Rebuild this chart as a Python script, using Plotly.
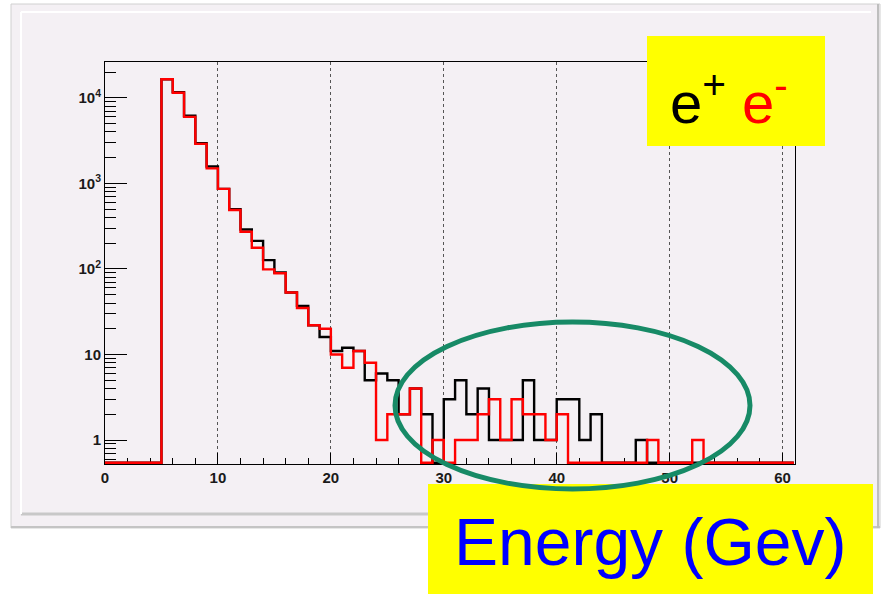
import math
import plotly.graph_objects as go

# ---------------- data ----------------
bin_edges = list(range(0, 62))  # 1 GeV bins, 0..61
positron_counts = [0, 0, 0, 0, 0,
                   16500, 11700, 6200, 2950, 1580, 865, 500, 290, 213, 127, 91, 53,
                   37, 22, 16, 11, 12, 11, 5, 6, 5, 2, 4, 2, 0, 3,
                   5, 2, 4, 1, 1, 1, 5, 1, 1, 3, 3, 1, 2,
                   0, 0, 0, 1, 0, 0, 0, 0, 0, 0, 0, 0, 0, 0, 0, 0, 0]
electron_counts = [0, 0, 0, 0, 0,
                   16500, 11500, 6000, 2900, 1500, 865, 490, 272, 177, 99, 89, 53,
                   35, 22, 20, 10, 7, 11, 8, 1, 2, 2, 4, 0, 1, 0,
                   1, 1, 2, 3, 1, 3, 2, 2, 1, 2, 0, 0, 0,
                   0, 0, 0, 0, 1, 0, 0, 0, 1, 0, 0, 0, 0, 0, 0, 0, 0]
x_tick_vals = [0, 10, 20, 30, 40, 50, 60]
x_tick_text = ["0", "10", "20", "30", "40", "50", "60"]
y_tick_vals = [1, 10, 100, 1000, 10000]
y_tick_text = ["1", "10", "10<sup>2</sup>", "10<sup>3</sup>", "10<sup>4</sup>"]
legend_text = "e<sup>+</sup> <span style='color:#FF0000'>e<sup>-</sup></span>"
xlabel_text = "Energy (Gev)"

# ---------------- layout geometry ----------------
W, H = 885, 594
L, R, T, B = 105, 795, 62, 464
PW, PH = R - L, B - T
Y_LOG_RANGE = [-0.28, 4.42]
X_RANGE = [0, 61.1]
floor_val = 10 ** (Y_LOG_RANGE[0] + 0.015)


def px(x):
    return (x - L) / PW


def py(y):
    return (B - y) / PH


def steps(counts):
    ys = [c if c > 0 else floor_val for c in counts]
    return bin_edges, ys + [ys[-1]]


fig = go.Figure()
for counts, color in [(positron_counts, "#000000"), (electron_counts, "#FF0000")]:
    xs, ys = steps(counts)
    fig.add_trace(go.Scatter(x=xs, y=ys, mode="lines", line_shape="hv",
                             line=dict(color=color, width=2.4), showlegend=False,
                             hoverinfo="skip"))

canvas = "#F4F0F4"
shapes = [
    # canvas pad
    dict(type="rect", xref="paper", yref="paper", x0=px(11), x1=px(880), y0=py(4), y1=py(528),
         fillcolor=canvas, line=dict(color="#D0D0D0", width=1), layer="below"),
    dict(type="line", xref="paper", yref="paper", x0=px(11), x1=px(880), y0=py(527), y1=py(527),
         line=dict(color="#C4C4C4", width=2), layer="below"),
    dict(type="line", xref="paper", yref="paper", x0=px(21), x1=px(871), y0=py(514), y1=py(514),
         line=dict(color="#C8C8C8", width=3), layer="below"),
    dict(type="line", xref="paper", yref="paper", x0=px(878), x1=px(878), y0=py(4), y1=py(528),
         line=dict(color="#BEBEBE", width=2), layer="below"),
    dict(type="line", xref="paper", yref="paper", x0=px(21), x1=px(21), y0=py(12), y1=py(514),
         line=dict(color="#FFFFFF", width=2), layer="below"),
    dict(type="line", xref="paper", yref="paper", x0=px(21), x1=px(871), y0=py(12), y1=py(12),
         line=dict(color="#FFFFFF", width=2), layer="below"),
    # legend box
    dict(type="rect", xref="paper", yref="paper", x0=px(647), x1=px(825), y0=py(36), y1=py(146),
         fillcolor="#FFFF00", line=dict(width=0), layer="above"),
    # energy label box
    dict(type="rect", xref="paper", yref="paper", x0=px(428), x1=px(873), y0=py(484), y1=py(600),
         fillcolor="#FFFF00", line=dict(width=0), layer="above"),
    # green ellipse
    dict(type="circle", xref="paper", yref="paper", x0=px(395), x1=px(750), y0=py(322), y1=py(489),
         line=dict(color="#178A66", width=5), layer="above"),
]

annotations = [
    dict(xref="paper", yref="paper", x=px(729), y=py(98), text=legend_text, showarrow=False,
         xanchor="center", yanchor="middle",
         font=dict(family="Liberation Sans", size=58, color="#000000")),
    dict(xref="paper", yref="paper", x=px(650), y=py(542), text=xlabel_text, showarrow=False,
         xanchor="center", yanchor="middle",
         font=dict(family="Liberation Sans", size=66, color="#0000FF")),
]

minor_y = [m * 10 ** e for e in range(-1, 5) for m in range(2, 10)
           if Y_LOG_RANGE[0] <= math.log10(m * 10 ** e) <= Y_LOG_RANGE[1]]

tickfont = dict(family="Liberation Sans", size=15, color="#1A1A1A", weight="bold")

fig.update_layout(
    width=W, height=H,
    margin=dict(l=L, r=W - R, t=T, b=H - B, pad=0),
    paper_bgcolor="#FFFFFF",
    plot_bgcolor="rgba(0,0,0,0)",
    shapes=shapes,
    annotations=annotations,
    xaxis=dict(range=X_RANGE, tickmode="array", tickvals=x_tick_vals, ticktext=x_tick_text,
               ticks="inside", ticklen=11, tickwidth=1, tickcolor="#000",
               minor=dict(dtick=2, tick0=0, ticks="inside", ticklen=6, tickwidth=1,
                          tickcolor="#000", showgrid=False),
               showgrid=True, gridcolor="#555555", gridwidth=1, griddash="dot",
               showline=True, linecolor="#000", linewidth=1, mirror=True,
               zeroline=False, layer="below traces", tickfont=tickfont),
    yaxis=dict(type="log", range=Y_LOG_RANGE, tickmode="array", tickvals=y_tick_vals,
               ticktext=y_tick_text, ticks="inside", ticklen=22, tickwidth=1, tickcolor="#000",
               minor=dict(tickvals=minor_y, ticks="inside", ticklen=11, tickwidth=1,
                          tickcolor="#000", showgrid=False),
               showgrid=False, showline=True, linecolor="#000", linewidth=1, mirror=True,
               zeroline=False, layer="below traces", tickfont=tickfont),
)

fig.write_html("out.html")
